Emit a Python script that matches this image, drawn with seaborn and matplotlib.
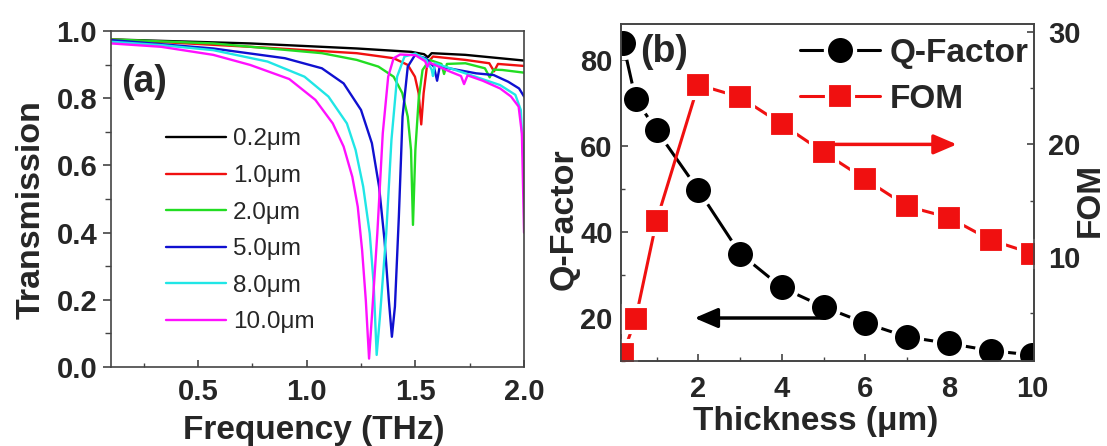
import matplotlib
matplotlib.use("Agg")
import matplotlib.pyplot as plt
from matplotlib.ticker import MultipleLocator
import pandas as pd
import seaborn as sns

# ---- panel (a): transmission spectra ----
freq_02 = [0.10, 0.74, 1.23, 1.48, 1.54, 1.558, 1.575, 1.73, 2.00]
trans_02 = [0.975, 0.963, 0.948, 0.938, 0.931, 0.922, 0.934, 0.929, 0.912]

freq_10 = [0.10, 0.74, 1.23, 1.40, 1.465, 1.498, 1.515, 1.527, 1.538, 1.555, 1.581,
           1.73, 1.84, 1.862, 1.88, 2.00]
trans_10 = [0.975, 0.953, 0.934, 0.919, 0.899, 0.864, 0.815, 0.722, 0.815, 0.904, 0.924,
            0.914, 0.904, 0.880, 0.902, 0.896]

freq_20 = [0.10, 0.57, 1.07, 1.23, 1.33, 1.40, 1.44, 1.465, 1.48, 1.489, 1.50, 1.515,
           1.533, 1.565, 1.62, 1.632, 1.645, 1.73, 1.82, 1.842, 1.86, 1.90, 2.00]
trans_20 = [0.975, 0.963, 0.934, 0.914, 0.894, 0.864, 0.815, 0.745, 0.646, 0.423, 0.646, 0.795,
            0.884, 0.914, 0.902, 0.872, 0.902, 0.904, 0.889, 0.862, 0.885, 0.884, 0.876]

freq_50 = [0.10, 0.57, 0.90, 1.07, 1.17, 1.25, 1.30, 1.333, 1.358, 1.378, 1.392, 1.406, 1.424,
           1.441, 1.465, 1.498, 1.548, 1.585, 1.60, 1.612, 1.696, 1.78, 1.86, 1.927, 1.977, 2.00]
trans_50 = [0.973, 0.948, 0.919, 0.889, 0.844, 0.765, 0.666, 0.537, 0.378, 0.199, 0.09, 0.18, 0.447,
            0.745, 0.894, 0.928, 0.919, 0.894, 0.852, 0.894, 0.884, 0.874, 0.869, 0.849, 0.829, 0.805]

freq_80 = [0.10, 0.33, 0.57, 0.82, 0.99, 1.10, 1.185, 1.225, 1.26, 1.29, 1.308, 1.322, 1.337,
           1.366, 1.39, 1.416, 1.45, 1.50, 1.55, 1.575, 1.581, 1.59, 1.73, 1.89, 1.96, 1.985, 2.00]
trans_80 = [0.968, 0.958, 0.943, 0.909, 0.864, 0.805, 0.725, 0.646, 0.537, 0.398, 0.249, 0.036, 0.15,
            0.398, 0.676, 0.864, 0.924, 0.933, 0.914, 0.885, 0.866, 0.904, 0.874, 0.839, 0.81, 0.765, 0.576]

freq_100 = [0.10, 0.33, 0.57, 0.74, 0.92, 1.04, 1.12, 1.17, 1.21, 1.235, 1.255, 1.272, 1.287, 1.30,
            1.325, 1.35, 1.375, 1.40, 1.43, 1.50, 1.545, 1.555, 1.565, 1.66, 1.71, 1.724, 1.74,
            1.81, 1.89, 1.94, 1.975, 1.99, 2.00]
trans_100 = [0.963, 0.953, 0.929, 0.899, 0.857, 0.795, 0.725, 0.656, 0.566, 0.477, 0.348, 0.199, 0.025, 0.15,
             0.398, 0.695, 0.864, 0.919, 0.930, 0.928, 0.910, 0.893, 0.906, 0.879, 0.866, 0.842, 0.868,
             0.852, 0.829, 0.805, 0.775, 0.695, 0.40]

labels = ["0.2μm", "1.0μm", "2.0μm", "5.0μm", "8.0μm", "10.0μm"]
colors = ["#000000", "#f01010", "#22dd22", "#1010d0", "#20e6e6", "#ff10ff"]
freqs = [freq_02, freq_10, freq_20, freq_50, freq_80, freq_100]
transs = [trans_02, trans_10, trans_20, trans_50, trans_80, trans_100]

# ---- panel (b): Q-factor and FOM vs thickness ----
thickness = [0.2, 0.5, 1, 2, 3, 4, 5, 6, 7, 8, 9, 10]
qfactor = [83.9, 70.9, 63.7, 49.8, 35.0, 27.1, 22.6, 18.8, 15.6, 14.1, 12.4, 11.4]
fom = [1.4, 4.5, 13.2, 25.3, 24.2, 21.8, 19.3, 16.9, 14.5, 13.5, 11.5, 10.3]

spec = pd.concat([pd.DataFrame({'freq': f, 'trans': t, 'label': l})
                  for f, t, l in zip(freqs, transs, labels)], ignore_index=True)
perf = pd.DataFrame({'thickness': thickness, 'Q': qfactor, 'FOM': fom})

sns.set_style("ticks")
plt.rcParams['font.family'] = ['Liberation Sans', 'DejaVu Sans']
plt.rcParams['font.weight'] = 'bold'
plt.rcParams['axes.labelweight'] = 'bold'

fig = plt.figure(figsize=(11.07, 4.46), dpi=100)
ax = fig.add_axes([0.1003, 0.1771, 0.3731, 0.7534])
axq = fig.add_axes([0.561, 0.1906, 0.3735, 0.7556])
axf = axq.twinx()

spine_col = '#444444'

# (a)
sns.lineplot(data=spec, x='freq', y='trans', hue='label', hue_order=labels,
             palette=dict(zip(labels, colors)), sort=False, estimator=None,
             lw=1.7, ax=ax)
ax.set_xlim(0.1, 2.0)
ax.set_ylim(0.0, 1.0)
ax.xaxis.set_major_locator(MultipleLocator(0.5))
ax.xaxis.set_minor_locator(MultipleLocator(0.25))
ax.yaxis.set_major_locator(MultipleLocator(0.2))
ax.yaxis.set_minor_locator(MultipleLocator(0.1))
ax.tick_params(axis='y', which='major', direction='out', length=6, width=1.2,
               labelsize=21, pad=4, color=spine_col)
ax.tick_params(axis='y', which='minor', direction='out', length=4, width=1.0, color=spine_col)
ax.tick_params(axis='x', which='major', direction='in', length=5, width=1.2,
               labelsize=21, pad=8, color=spine_col)
ax.tick_params(axis='x', which='minor', direction='in', length=3, width=1.0, color=spine_col)
ax.set_xlabel('Frequency (THz)', fontsize=24)
ax.set_ylabel('Transmission', fontsize=24.5)
ax.xaxis.set_label_coords(0.49, -0.143)
ax.yaxis.set_label_coords(-0.157, 0.47)
ax.text(0.024, 0.847, '(a)', transform=ax.transAxes, fontsize=27,
        fontweight='bold', ha='left', va='center')
ax.legend(loc='center left', bbox_to_anchor=(0.133, 0.405), frameon=False,
          borderpad=0, borderaxespad=0, handlelength=2.45, handletextpad=0.3,
          labelspacing=0.6, prop={'size': 17.5, 'weight': 'normal'})

# (b)
sns.lineplot(data=perf, x='thickness', y='Q', ax=axq, color='black', lw=2.2,
             marker='o', ms=21, mfc='black', mec='white', mew=3,
             label='Q-Factor', legend=False)
sns.lineplot(data=perf, x='thickness', y='FOM', ax=axf, color='#f01010', lw=2.2,
             marker='s', ms=18.5, mfc='#f01010', mec='white', mew=3,
             label='FOM', legend=False)
axq.set_xlim(0.15, 10.05)
axq.set_ylim(10, 88.4)
axf.set_ylim(0.75, 30.7)
axq.xaxis.set_major_locator(MultipleLocator(2))
axq.xaxis.set_minor_locator(MultipleLocator(1))
axq.yaxis.set_major_locator(MultipleLocator(20))
axq.yaxis.set_minor_locator(MultipleLocator(10))
axf.yaxis.set_major_locator(MultipleLocator(10))
axf.yaxis.set_minor_locator(MultipleLocator(5))
axq.tick_params(axis='both', which='major', direction='in', length=5, width=1.2,
                labelsize=21, color=spine_col)
axq.tick_params(axis='both', which='minor', direction='in', length=3, width=1.0, color=spine_col)
axq.tick_params(axis='x', which='major', pad=10)
axq.tick_params(axis='y', which='major', pad=6)
axf.tick_params(axis='y', which='major', direction='in', length=5, width=1.2,
                labelsize=21, pad=10, color=spine_col)
axf.tick_params(axis='y', which='minor', direction='in', length=3, width=1.0, color=spine_col)
axq.set_xlabel('Thickness (μm)', fontsize=24)
axq.set_ylabel('Q-Factor', fontsize=24.5)
axf.set_ylabel('FOM', fontsize=24)
axq.xaxis.set_label_coords(0.47, -0.134)
axq.yaxis.set_label_coords(-0.099, 0.42)
axf.yaxis.set_label_coords(1.097, 0.478)
axq.text(0.046, 0.917, '(b)', transform=axq.transAxes, fontsize=27,
         fontweight='bold', ha='left', va='center')

axq.annotate('', xy=(1.91, 20), xytext=(5.03, 20),
             arrowprops=dict(arrowstyle='-|>,head_length=0.7,head_width=0.3',
                             color='black', lw=2.5, shrinkA=0, shrinkB=0,
                             mutation_scale=20))
axf.annotate('', xy=(8.19, 20), xytext=(5.15, 20),
             arrowprops=dict(arrowstyle='-|>,head_length=0.7,head_width=0.3',
                             color='#f01010', lw=2.5, shrinkA=0, shrinkB=0,
                             mutation_scale=20))

handles = axq.get_lines()[:1] + axf.get_lines()[:1]
axf.legend(handles, ['Q-Factor', 'FOM'], loc='upper right',
           bbox_to_anchor=(0.985, 0.958), frameon=False, borderpad=0,
           borderaxespad=0, handlelength=2.4, handletextpad=0.27,
           labelspacing=0.44, prop={'size': 24, 'weight': 'bold'})

for a in (ax, axq, axf):
    for s in a.spines.values():
        s.set_color(spine_col)
        s.set_linewidth(1.2)

fig.savefig('out.png', dpi=100)
